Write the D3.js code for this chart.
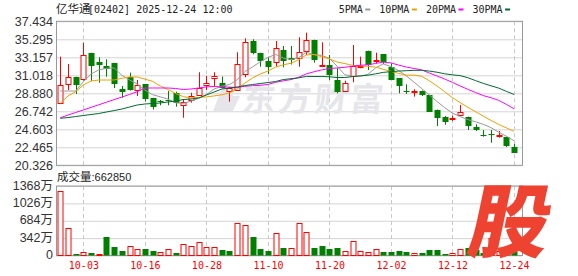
<!DOCTYPE html>
<html>
<head>
<meta charset="utf-8">
<script src="https://cdn.jsdelivr.net/npm/d3@7"></script>
<style>
body { margin: 0; background: #fff; }
svg { display: block; }
</style>
</head>
<body>
<svg id="chart"></svg>
<script>
var dates = ['09-29', '09-30', '10-02', '10-03', '10-06', '10-08', '10-09', '10-10', '10-13', '10-14',
  '10-15', '10-16', '10-17', '10-20', '10-21', '10-22', '10-23', '10-24', '10-27', '10-28',
  '10-30', '10-31', '11-03', '11-04', '11-05', '11-06', '11-07', '11-10', '11-11', '11-12',
  '11-13', '11-14', '11-17', '11-18', '11-19', '11-20', '11-21', '11-24', '11-25', '11-26',
  '11-27', '11-28', '12-01', '12-02', '12-03', '12-04', '12-05', '12-08', '12-09', '12-10',
  '12-11', '12-12', '12-15', '12-16', '12-17', '12-18', '12-19', '12-22', '12-23', '12-24'];

var open = [27.69, 29.95, 30.78, 30.54, 33.63, 32.60, 32.09, 32.48, 29.39, 30.78,
  29.27, 29.98, 28.29, 27.91, 28.03, 28.88, 27.49, 28.09, 28.68, 29.78,
  30.66, 30.14, 29.15, 29.27, 31.17, 35.09, 33.63, 32.72, 32.52, 34.02,
  33.04, 32.99, 33.94, 35.21, 32.16, 32.24, 30.46, 29.19, 30.94, 32.07,
  33.91, 32.80, 33.51, 32.04, 30.66, 29.15, 29.12, 29.19, 28.68, 26.90,
  26.03, 25.86, 26.34, 26.03, 24.91, 23.96, 24.05, 23.89, 23.65, 22.54];
var high = [33.23, 32.36, 30.85, 34.89, 33.70, 33.16, 32.92, 32.50, 29.75, 31.33,
  30.46, 30.00, 28.35, 28.08, 29.15, 29.07, 28.20, 28.95, 31.38, 30.94,
  31.38, 30.87, 29.63, 33.75, 35.41, 35.30, 33.70, 33.16, 35.09, 34.50,
  34.50, 35.53, 36.08, 35.25, 34.94, 33.43, 31.85, 30.38, 34.62, 33.23,
  33.95, 33.70, 33.55, 32.44, 30.70, 29.95, 29.36, 29.20, 28.70, 26.95,
  26.18, 26.22, 27.49, 26.10, 25.20, 24.52, 24.52, 24.40, 23.72, 22.86];
var low = [27.60, 29.27, 28.80, 30.40, 30.34, 30.14, 30.85, 29.51, 28.36, 29.20,
  28.56, 27.93, 26.96, 27.46, 27.46, 27.29, 25.98, 27.77, 28.60, 29.27,
  29.75, 29.47, 27.88, 29.20, 30.78, 33.51, 32.04, 31.17, 32.04, 31.97,
  32.30, 32.04, 33.43, 32.52, 32.10, 30.46, 28.88, 29.07, 30.19, 31.85,
  31.65, 32.44, 32.36, 30.50, 28.88, 28.80, 28.48, 28.56, 26.65, 25.00,
  25.15, 25.59, 26.30, 24.52, 24.40, 23.72, 23.01, 23.61, 22.50, 21.85];
var close = [29.83, 30.78, 29.78, 33.40, 32.04, 32.28, 31.77, 29.98, 29.07, 29.27,
  29.83, 28.20, 27.22, 27.79, 27.88, 27.65, 27.88, 28.56, 29.48, 30.07,
  30.94, 29.59, 29.47, 32.36, 34.94, 33.70, 32.63, 32.04, 34.23, 32.75,
  32.80, 33.75, 35.21, 32.84, 32.28, 31.06, 29.07, 30.14, 32.12, 32.12,
  32.24, 32.84, 32.52, 30.54, 29.75, 29.07, 29.15, 28.68, 26.70, 25.91,
  25.39, 25.91, 26.66, 24.91, 24.60, 23.89, 23.96, 23.96, 22.54, 21.87];
// 成交量，单位：万
var volume = [1270, 535, 35, 69, 55, 30, 364, 167, 95, 181,
  122, 128, 95, 69, 122, 55, 226, 187, 266, 161,
  161, 108, 95, 640, 600, 364, 128, 95, 443, 148,
  153, 634, 457, 142, 181, 122, 154, 83, 291, 95,
  63, 134, 63, 75, 95, 75, 55, 43, 114, 102,
  30, 43, 134, 150, 100, 43, 340, 80, 142, 66];
var lastVolume = 662850;

// 均线开头部分（窗口之前的数据不在图中，从图上读取）
var ma5Lead = [29.15, 29.15, 29.15, 30.26];
var ma10Lead = [27.69, 28.56, 29.07, 29.87, 30.34, 30.46, 30.46, 30.46, 30.66];
var ma20Lead = [25.98, 26.29, 26.60, 26.90, 27.21, 27.51, 27.82, 28.13, 28.43, 28.74,
  29.07, 29.51, 29.51, 29.51, 29.51, 29.45, 29.33, 29.39, 29.51];
var ma30Lead = [25.91, 26.00, 26.12, 26.24, 26.36, 26.48, 26.66, 26.83, 27.01, 27.25,
  27.49, 27.61, 27.67, 27.73, 27.85, 27.96, 28.14, 28.20, 28.32, 28.68,
  29.03, 29.39, 29.51, 29.63, 29.80, 29.92, 30.04, 30.16, 30.28];

var priceTicks = [37.434, 35.295, 33.157, 31.018, 28.880, 26.742, 24.603, 22.465, 20.326];
var volTicks = [0, 342, 684, 1026, 1368];
var dateTicks = ['10-03', '10-16', '10-28', '11-10', '11-20', '12-02', '12-12', '12-24'];
var maNames = ['5PMA', '10PMA', '20PMA', '30PMA'];
var maColors = ['#999999', '#f0a000', '#ff00ff', '#006b30'];

var left = 56, right = 522;
var RED = '#ff0000', GREEN = '#008000';

var svg = d3.select('#chart').attr('width', 578).attr('height', 276);

var x = d3.scalePoint().domain(dates).range([60.3, 514]);
var y = d3.scaleLinear().domain([20.326, 37.434]).range([165.3, 21.3]);
var yv = d3.scaleLinear().domain([0, 1368]).range([255.5, 186]);

function px(d) { return Math.round(x(d)) + 0.5; }

// 价格区网格和刻度
svg.append('g')
  .attr('transform', 'translate(' + left + ',0)')
  .call(d3.axisLeft(y).tickValues(priceTicks).tickSize(-(right - left)).tickPadding(3)
    .tickFormat(d3.format('.3f')))
  .call(function(g) {
    g.select('.domain').remove();
    g.selectAll('line').attr('stroke', '#d4d4d4');
    g.selectAll('text').attr('fill', '#333').attr('dy', '0.3em')
      .style('font', '12.5px "Liberation Sans", Arial, sans-serif');
  });

// 成交量区网格和刻度
svg.append('g')
  .attr('transform', 'translate(' + left + ',0)')
  .call(d3.axisLeft(yv).tickValues(volTicks).tickSize(-(right - left)).tickPadding(3)
    .tickFormat(function(d) { return d ? d + '万' : '0'; }))
  .call(function(g) {
    g.select('.domain').remove();
    g.selectAll('line').attr('stroke', '#d4d4d4');
    g.selectAll('text').attr('fill', '#333').attr('dy', '0.25em')
      .style('font', '12.5px "Liberation Sans", Arial, "Noto Sans CJK SC", sans-serif');
  });

// 竖向虚线
[[21.3, 165.3], [186, 255.5]].forEach(function(r) {
  svg.append('g').selectAll('line').data(dateTicks).enter()
    .append('line')
    .attr('x1', px).attr('x2', px)
    .attr('y1', r[0]).attr('y2', r[1])
    .attr('stroke', '#c8c8c8')
    .attr('stroke-dasharray', '4,3');
});

// 日期标签
svg.append('g')
  .attr('transform', 'translate(0,255.5)')
  .call(d3.axisBottom(x).tickValues(dateTicks).tickSize(0).tickPadding(6))
  .call(function(g) {
    g.select('.domain').remove();
    g.selectAll('text').attr('fill', RED)
      .style('font', '10px "DejaVu Sans Mono", monospace');
  });

// 水印
var wm = svg.append('g').attr('fill', '#e6e6ea');
wm.append('path')
  .attr('d', 'M222,88 L236,88 L226,111 L213,111 Z M232,96 L240,96 L233,111 L226,111 Z');
wm.append('text')
  .attr('x', 253).attr('y', 111)
  .attr('transform', 'skewX(-6)')
  .style('font', 'bold 33px "Noto Sans CJK SC", sans-serif')
  .style('letter-spacing', '3px')
  .text('东方财富');

// 边框
[[21.3, 165.3], [186, 255.5]].forEach(function(r) {
  svg.append('rect')
    .attr('x', left + 0.5).attr('y', r[0])
    .attr('width', right - left).attr('height', r[1] - r[0])
    .attr('fill', 'none').attr('stroke', '#999');
});

var rows = dates.map(function(d, i) {
  return { date: d, o: open[i], h: high[i], l: low[i], c: close[i], v: volume[i],
    prev: i ? close[i - 1] : open[i] };
});

// K线
var candles = svg.append('g').selectAll('g').data(rows).enter().append('g');
candles.append('line')
  .attr('x1', function(d) { return px(d.date); })
  .attr('x2', function(d) { return px(d.date); })
  .attr('y1', function(d) { return y(d.h); })
  .attr('y2', function(d) { return y(d.l); })
  .attr('stroke', function(d) { return d.c >= d.o ? RED : GREEN; });
candles.append('rect')
  .attr('x', function(d) { return px(d.date) - 2.5 + (d.c >= d.o ? 0.5 : 0) - 0.5; })
  .attr('y', function(d) { return Math.round(y(Math.max(d.o, d.c))) + (d.c >= d.o ? 0.5 : 0); })
  .attr('width', function(d) { return d.c >= d.o ? 5 : 6; })
  .attr('height', function(d) { return Math.max(1, Math.round(y(Math.min(d.o, d.c)) - y(Math.max(d.o, d.c)))); })
  .attr('fill', function(d) { return d.c >= d.o ? '#fff' : GREEN; })
  .attr('stroke', function(d) { return d.c >= d.o ? RED : 'none'; });

// 成交量柱
svg.append('g').selectAll('rect').data(rows).enter()
  .append('rect')
  .attr('x', function(d) { return px(d.date) - 2.5 + (d.c >= d.prev ? 0 : -0.5); })
  .attr('y', function(d) { return Math.round(yv(d.v)) + (d.c >= d.prev ? 0.5 : 0); })
  .attr('width', function(d) { return d.c >= d.prev ? 5 : 6; })
  .attr('height', function(d) { return Math.max(1, 255.5 - Math.round(yv(d.v)) - (d.c >= d.prev ? 0.5 : 0)); })
  .attr('fill', function(d) { return d.c >= d.prev ? '#fff' : GREEN; })
  .attr('stroke', function(d) { return d.c >= d.prev ? RED : 'none'; });

// 均线
function movingAvg(n, lead) {
  return close.map(function(c, i) {
    if (i < n - 1) return lead[i];
    return d3.mean(close.slice(i - n + 1, i + 1));
  });
}
var maSeries = [movingAvg(5, ma5Lead), movingAvg(10, ma10Lead), movingAvg(20, ma20Lead), movingAvg(30, ma30Lead)];
var line = d3.line()
  .x(function(v, i) { return x(dates[i]); })
  .y(function(v) { return y(v); });
svg.append('g').selectAll('path').data(maSeries).enter()
  .append('path')
  .attr('d', line)
  .attr('fill', 'none')
  .attr('stroke', function(d, i) { return maColors[i]; })
  .attr('stroke-width', 1);

// 标题
svg.append('text')
  .attr('x', 56).attr('y', 13)
  .attr('fill', '#222')
  .style('font', '11.5px "Noto Sans CJK SC", sans-serif')
  .text('亿华通');
svg.append('text')
  .attr('x', 88).attr('y', 13)
  .attr('fill', '#222')
  .style('font', '10px "DejaVu Sans Mono", monospace')
  .text('[02402] 2025-12-24 12:00');

// 图例
var lx = 338.7;
maNames.forEach(function(name, i) {
  svg.append('text')
    .attr('x', lx).attr('y', 13)
    .attr('fill', '#222')
    .style('font', '10px "DejaVu Sans Mono", monospace')
    .text(name);
  lx += name.length * 6.02 + 2.5;
  svg.append('rect')
    .attr('x', lx).attr('y', 8.5)
    .attr('width', 5).attr('height', 2)
    .attr('fill', maColors[i]);
  lx += 5 + 9;
});

// 成交量标题
var vt = svg.append('text')
  .attr('x', 57).attr('y', 181)
  .attr('fill', '#222');
vt.append('tspan')
  .style('font', '11.5px "Noto Sans CJK SC", sans-serif')
  .text('成交量');
vt.append('tspan')
  .style('font', '11px "Liberation Sans", Arial, sans-serif')
  .text(':' + lastVolume);

// 右下角标志
svg.append('text')
  .attr('x', 0).attr('y', 0)
  .attr('transform', 'translate(465,251) skewX(-12)')
  .attr('fill', '#ee4330')
  .style('font', '900 80px "Noto Sans CJK SC", sans-serif')
  .text('股');
</script>
</body>
</html>
